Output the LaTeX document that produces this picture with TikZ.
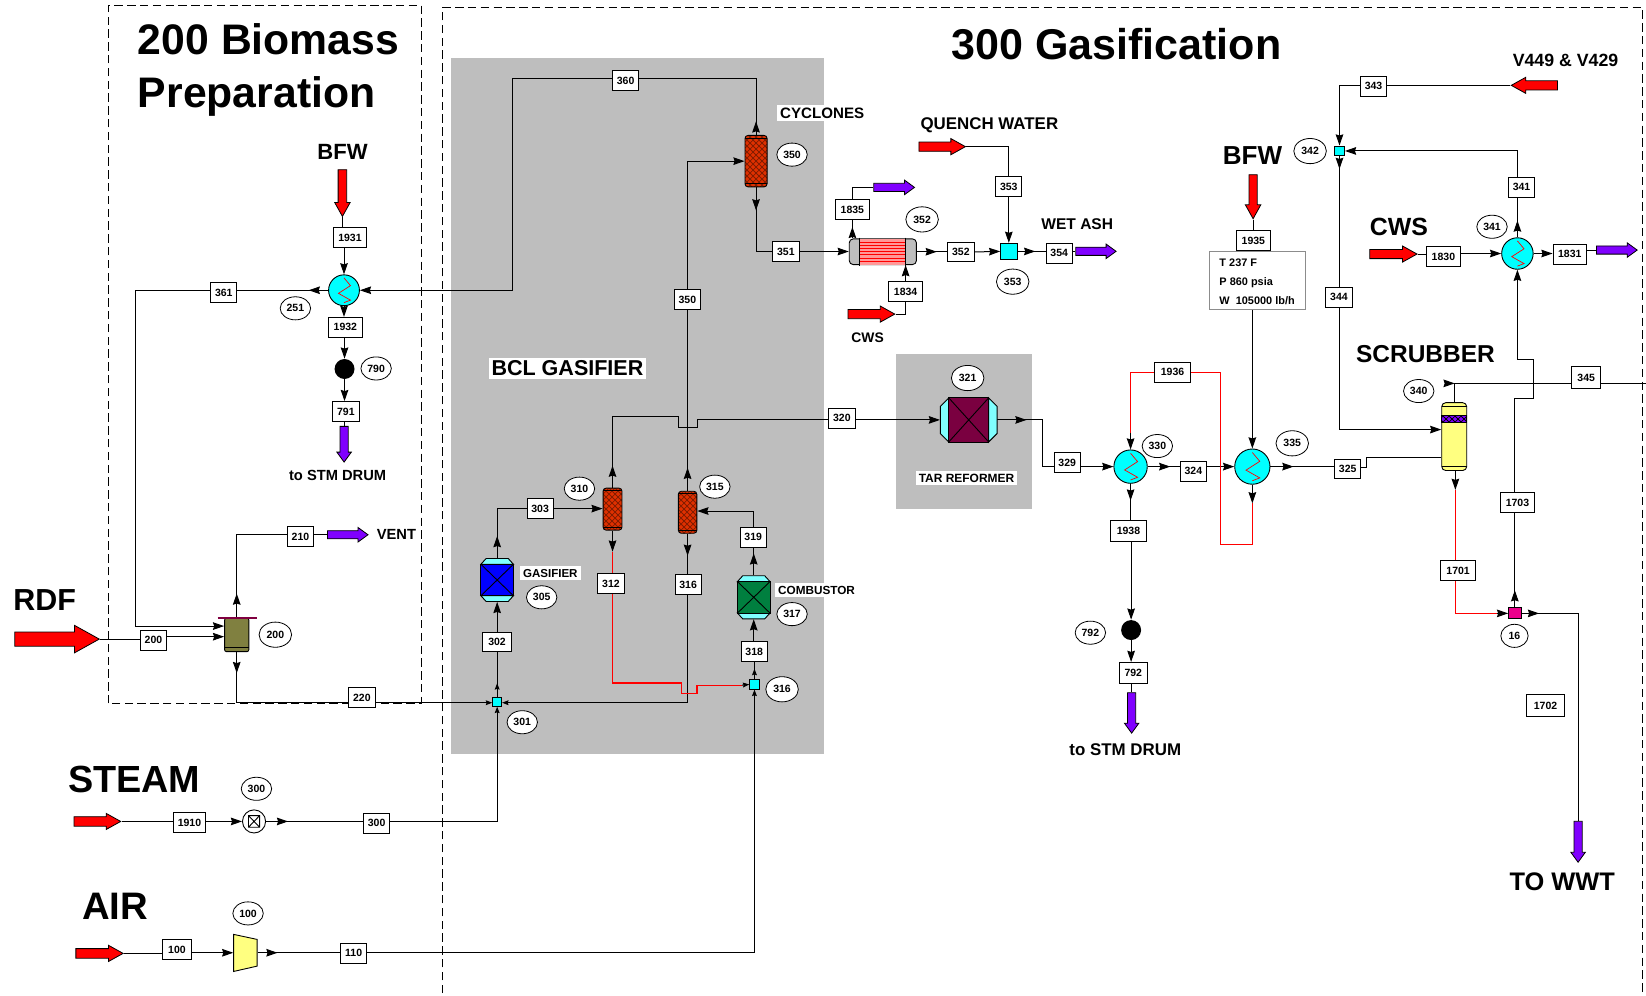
\documentclass[tikz,border=0pt]{standalone}
\usepackage{fontspec}
\setmainfont{Liberation Sans}
\usetikzlibrary{arrows.meta,shapes.geometric,shapes.arrows,decorations.markings,patterns,calc}
\pgfdeclarelayer{back}
\pgfdeclarelayer{conn}
\pgfsetlayers{back,conn,main}
\newcommand\uu{0.5249pt}
\newcommand\fsz[1]{\fontsize{\fpeval{#1*0.5249}}{\fpeval{#1*0.62}}\selectfont\bfseries}
\definecolor{grayz}{HTML}{BEBEBE}
\definecolor{purp}{HTML}{8000FF}
\definecolor{capc}{HTML}{80FFFF}
\definecolor{cyanc}{HTML}{00FFFF}
\definecolor{olivec}{HTML}{808040}
\definecolor{maroonc}{HTML}{7A0040}
\definecolor{greenc}{HTML}{007F3F}
\definecolor{yelc}{HTML}{FFFF80}
\definecolor{hotc}{HTML}{E03000}
\definecolor{hatchc}{HTML}{801C00}
\tikzset{
  hd/.tip={Stealth[length=5.6pt,width=3.8pt,inset=.6pt]},
  sh/.tip={Stealth[length=3.2pt,width=2.4pt,inset=.4pt]},
  ln/.style={draw=black,line width=.5pt},
  rln/.style={draw=red,line width=.55pt},
  outat/.style={postaction={decorate,decoration={markings,mark=at position #1*\uu with {\arrow[black]{hd}}}}},
  soutat/.style={postaction={decorate,decoration={markings,mark=at position #1*\uu with {\arrow[black]{sh}}}}},
  lb/.style={draw,fill=white,inner sep=0,minimum width=25*\uu,minimum height=19*\uu,line width=.45pt,font=\fsz{10}},
  lbw/.style={lb,minimum width=32*\uu},
  tag/.style={draw,fill=white,ellipse,inner sep=0,minimum width=29*\uu,minimum height=22*\uu,line width=.4pt,font=\fsz{10}},
  tagb/.style={tag,minimum width=31*\uu,minimum height=24*\uu},
  ttl/.style={anchor=base west,inner sep=0,font=\fsz{#1}},
  wbox/.style={anchor=base west,fill=white,inner xsep=1.5pt,inner ysep=1.5pt,font=\fsz{#1}},
  hxc/.style={draw,circle,fill=cyanc,inner sep=0,minimum size=#1*2*\uu,line width=.45pt},
  mixc/.style={draw,rectangle,fill=cyanc,inner sep=0,minimum size=#1*\uu,line width=.45pt},
  dot/.style={circle,fill=black,inner sep=0,minimum size=19*\uu},
  equip/.style n args={2}{inner sep=0,minimum width=#1*\uu,minimum height=#2*\uu},
  ves/.style n args={2}{draw,rounded corners=1.5pt,inner sep=0,minimum width=#1*\uu,minimum height=#2*\uu,line width=.45pt,preaction={fill=hotc},pattern=crosshatch,pattern color=hatchc},
  barrow/.style n args={3}{shape=single arrow,draw=black,line width=.4pt,inner sep=#3/2*\uu,anchor=tail,
     minimum height=#1*\uu,minimum width=#2*\uu,single arrow head extend=(#2-#3)/2*\uu,
     single arrow tip angle=58,single arrow head indent=0pt},
  reda/.style n args={3}{barrow={#1}{#2}{#3},fill=red},
  puraa/.style={barrow={#1}{13}{7},fill=purp,single arrow tip angle=72},
}
\newcommand\zigz[2]{\draw[red,line width=.35pt,shift={(#1)},scale=#2] (0,-.8)--(.42,-.3)--(-.36,.2)--(.42,.64)--(0,.8);}
\newcommand\reactor[2]{\begin{scope}[shift={(#1)},line width=.45pt]
  \filldraw[fill=capc] (-15.5,-15)--(-10.5,-20.5)--(10.5,-20.5)--(15.5,-15)--cycle;
  \filldraw[fill=capc] (-15.5,15)--(-10.5,20.5)--(10.5,20.5)--(15.5,15)--cycle;
  \filldraw[fill=#2] (-15.5,-15) rectangle (15.5,15);
  \draw (-15.5,-15)--(15.5,15) (-15.5,15)--(15.5,-15);
\end{scope}}
\newcommand\capl[4]{\draw[shift={(#1)},line width=.45pt] (-#2,-#3+#4)--(#2,-#3+#4) (-#2,#3-#4)--(#2,#3-#4);}
\begin{document}
\begin{tikzpicture}[x=0.5249pt,y=-0.5249pt]
\useasboundingbox (0,0) rectangle (1568,948);
% titles and free text
\node[ttl=40.7] (t200a) at (131,52) {200 Biomass};
\node[ttl=40.7] (t200b) at (131,102) {Preparation};
\node[ttl=41] (t300) at (906,57) {300 Gasification};
\node[ttl=21] (tbfw1) at (302,152) {BFW};
\node[ttl=14] (tstm1) at (275,458) {to STM DRUM};
\node[ttl=14] (tvent) at (358.6,513.8) {VENT};
\node[ttl=29] (trdf) at (12.4,581.8) {RDF};
\node[ttl=36] (tsteam) at (64.5,755.2) {STEAM};
\node[ttl=36.5] (tair) at (77.9,875.8) {AIR};
\node[wbox=20.5] (tbcl) at (465,358) {BCL GASIFIER};
\node[wbox=11] (tgas) at (495,550) {GASIFIER};
\node[wbox=11.2] (tcomb) at (738,566) {COMBUSTOR};
\node[wbox=14.4] (tcyc) at (740,112.5) {CYCLONES};
\node[wbox=11.4] (ttar) at (872,459.5) {TAR REFORMER};
\node[ttl=16.1] (tq) at (876.5,123.2) {QUENCH WATER};
\node[ttl=13.2] (tcws1) at (810.7,326.5) {CWS};
\node[ttl=14.8] (twet) at (991.7,219) {WET ASH};
\node[ttl=16.1] (tstm2) at (1018.4,719.3) {to STM DRUM};
\node[ttl=16.9] (tv) at (1440.7,63.5) {V449 \& V429};
\node[ttl=24.8] (tbfw2) at (1164.5,156.5) {BFW};
\node[ttl=23.7] (tcws2) at (1304.5,224.2) {CWS};
\node[ttl=23.3] (tscr) at (1291.5,344.9) {SCRUBBER};
\node[ttl=24.2] (twwt) at (1437.6,848) {TO WWT};
% block arrows
\node[reda={44.5}{14}{7.4},shape border rotate=270] (abfw1) at (326.2,161.3) {};
\node[puraa={34},shape border rotate=270] (pstm1) at (327.8,405.8) {};
\node[puraa={38.7}] (pvent) at (311.5,509.4) {};
\node[reda={80.5}{25.4}{12.7}] (ardf) at (13.7,608.8) {};
\node[reda={44.4}{14.6}{8.3}] (asteam) at (70.2,782.5) {};
\node[reda={45}{14.6}{8.3}] (aair) at (71.9,908.2) {};
\node[puraa={38.8}] (p1835) at (832,178.5) {};
\node[reda={44.5}{14.6}{8}] (acws1) at (807.5,299.2) {};
\node[reda={44.3}{14.6}{8}] (aq) at (875,139.7) {};
\node[puraa={38.4}] (p354) at (1024.4,239.4) {};
\node[puraa={38.5},shape border rotate=270] (pstm2) at (1078,659.5) {};
\node[reda={44}{14.6}{8},shape border rotate=180] (av) at (1484,81.3) {};
\node[reda={42}{14}{7},shape border rotate=270] (abfw2) at (1193.7,166) {};
\node[reda={45}{14.6}{8}] (acws2) at (1304.5,242) {};
\node[puraa={38.8}] (p1831) at (1520.4,238.2) {};
\node[puraa={39},shape border rotate=270] (pwwt) at (1503.3,782) {};
% heat exchangers
\node[hxc=14.7] (hx251) at (327.7,276.5) {}; \zigz{hx251}{14.7}
\node[hxc=15.9] (hx330) at (1077,444.5) {}; \zigz{hx330}{15.9}
\node[hxc=16.8] (hx335) at (1193,444.5) {}; \zigz{hx335}{16.8}
\node[hxc=15] (hx341) at (1445.5,241.5) {}; \zigz{hx341}{15}
% tube exchanger 352
\node[draw,rounded corners=2pt,fill=grayz,equip={64}{24.5},line width=.45pt] (hx352) at (841,239.8) {};
\begin{scope}[shift={(hx352)},line width=.45pt]
  \filldraw[draw=none,fill=red!40] (-22.4,-12.2) rectangle (21.8,12.2);
  \foreach \yy in {-9,-6,-3,0,3,6,9} \draw[red,line width=.5pt] (-22.4,\yy)--(21.8,\yy);
  \draw (-22.4,-13.5)--(-22.4,13.5) (21.8,-13.5)--(21.8,13.5);
\end{scope}
% mixers
\node[mixc=8.5] (mix301) at (473.6,668.5) {};
\node[mixc=9] (mix316) at (718.7,652) {};
\node[mixc=15.5] (mix353) at (961,239.5) {};
\node[mixc=9.5] (mix342) at (1276,143.8) {};
\node[mixc=10.5,fill=magenta,minimum width=11.8*\uu] (mix16) at (1443,584.3) {};
% dots
\node[dot] (c790) at (328.2,351.5) {};
\node[dot] (c792) at (1077.5,600.2) {};
% valve
\node[draw,circle,fill=white,inner sep=0,minimum size=22*\uu,line width=.45pt] (v300) at (242,782.5) {};
\draw[shift={(v300)},line width=.45pt] (-5.3,-5.5) rectangle (5.3,5.5) (-5.3,-5.5)--(5.3,5.5) (-5.3,5.5)--(5.3,-5.5);
% compressor
\node[equip={22.4}{35}] (comp) at (233.8,907.6) {};
\filldraw[fill=yelc,line width=.45pt,shift={(comp)}] (-11.2,-17.5)--(11.2,-12.7)--(11.2,12.7)--(-11.2,17.8)--cycle;
% tank 200
\node[draw,fill=olivec,rounded corners=1pt,equip={23.1}{32},line width=.45pt] (tank) at (225.5,604.8) {};
\draw[shift={(tank)},line width=.45pt] (-11.5,12)--(11.5,12);
\draw[draw={rgb,255:red,128;green,0;blue,64},line width=.8pt,shift={(tank)}] (-18.3,-16.2)--(19.1,-16.2);
% gasifier, combustor, reformer
\node[equip={31}{41}] (gas) at (473.6,552.5) {}; \reactor{gas}{blue}
\node[equip={31}{41}] (comb) at (718,569) {}; \reactor{comb}{greenc}
\node[equip={54}{42}] (refr) at (922.8,400) {};
\begin{scope}[shift={(refr)},line width=.45pt]
  \filldraw[fill=capc] (-19,-21)--(-27,-13)--(-27,13)--(-19,21)--cycle;
  \filldraw[fill=capc] (19,-21)--(27,-13)--(27,13)--(19,21)--cycle;
  \filldraw[fill=maroonc] (-19,-21) rectangle (19,21);
  \draw (-19,-21)--(19,21) (-19,21)--(19,-21);
\end{scope}
% vessels
\node[ves={18}{40}] (ves310) at (583.5,485) {}; \capl{ves310}{9}{20}{2.5}
\node[ves={17.6}{40}] (ves315) at (655,488) {}; \capl{ves315}{8.8}{20}{2.5}
\node[ves={21}{49}] (cyc) at (720.2,153.5) {}; \capl{cyc}{10.5}{24.5}{3}
% scrubber
\node[draw,fill=yelc,rounded corners=2pt,equip={23.8}{64.6},line width=.45pt] (scr) at (1385.3,415.9) {};
\capl{scr}{11.9}{32.3}{4}
\filldraw[shift={(scr)},fill=purp,line width=.3pt] (-11.9,-20.1) rectangle (11.9,-13.5);
\fill[shift={(scr)},pattern=crosshatch,pattern color=black] (-11.9,-20.1) rectangle (11.9,-13.5);
% info box
\node[draw=black!45,fill=white,equip={91.5}{55},line width=.5pt] (info) at (1198.2,267.3) {};
\node[ttl=10.4] (i1) at (1161.3,254) {T 237 F};
\node[ttl=10.4] (i2) at (1161.3,271.8) {P 860 psia};
\node[ttl=10.4] (i3) at (1161.3,289.6) {W\ \ 105000 lb/h};
% stream labels
\node[lbw] (l1931) at (333.4,226.6) {1931};
\node[lbw] (l1932) at (329,311.8) {1932};
\node[lb] (l791) at (329.5,392) {791};
\node[lb] (l361) at (213.2,278.8) {361};
\node[lb] (l360) at (596,77) {360};
\node[lb] (l200) at (146.2,610) {200};
\node[lb] (l210) at (286.2,511) {210};
\node[lb] (l220) at (344.7,664.7) {220};
\node[lbw,minimum width=30.8*\uu] (l1910) at (180.5,783.7) {1910};
\node[lb] (l300) at (358.8,784) {300};
\node[lb,minimum width=27*\uu] (l100) at (168.6,904.8) {100};
\node[lb] (l110) at (336.9,908) {110};
\node[lb,minimum width=27*\uu] (l302) at (473.5,611.5) {302};
\node[lb] (l303) at (514.5,484.5) {303};
\node[lb] (l312) at (582,556) {312};
\node[lb] (l316) at (655.5,557) {316};
\node[lb] (l318) at (718.5,621) {318};
\node[lb] (l319) at (717.5,511.7) {319};
\node[lb,minimum width=26*\uu] (l320) at (802,398.5) {320};
\node[lb] (l350) at (654.8,285.5) {350};
\node[lb] (l351) at (748.6,239.6) {351};
\node[lbw] (l1835) at (812,199.5) {1835};
\node[lbw] (l1834) at (862.7,277.7) {1834};
\node[lb] (l352) at (915.3,240) {352};
\node[lb] (l353) at (961,177.7) {353};
\node[lb] (l354) at (1009,241) {354};
\node[lb] (l329) at (1016.6,440.5) {329};
\node[lb] (l324) at (1136.8,449) {324};
\node[lbw,minimum width=34*\uu] (l1936) at (1117,354.6) {1936};
\node[lbw,minimum width=35*\uu,minimum height=20*\uu] (l1938) at (1075,505.5) {1938};
\node[lb,minimum width=27*\uu,minimum height=20*\uu] (l792) at (1079.6,641) {792};
\node[lb] (l325) at (1283.8,446.7) {325};
\node[lb] (l343) at (1308.4,82.2) {343};
\node[lb] (l344) at (1275.5,283) {344};
\node[lbw] (l1935) at (1194,229) {1935};
\node[lbw] (l1830) at (1375,244.5) {1830};
\node[lbw] (l1831) at (1495.4,242.3) {1831};
\node[lb] (l341) at (1449.4,178.5) {341};
\node[lb,minimum width=28*\uu,minimum height=21*\uu] (l345) at (1511,360) {345};
\node[lbw,minimum width=33*\uu] (l1701) at (1389,543.4) {1701};
\node[lbw] (l1703) at (1445.5,478.6) {1703};
\node[lbw,minimum width=36*\uu,minimum height=21*\uu] (l1702) at (1472.3,672) {1702};
% equipment tags
\node[tag] (e251) at (281.4,293.7) {251};
\node[tag] (e790) at (358.3,351) {790};
\node[tagb] (e200) at (262.3,604.6) {200};
\node[tag] (e301) at (497.5,688) {301};
\node[tag] (e300) at (244.3,751.4) {300};
\node[tag] (e100) at (236.3,870.1) {100};
\node[tag] (e305) at (516,569) {305};
\node[tag] (e310) at (552,465.5) {310};
\node[tag] (e315) at (681,463.6) {315};
\node[tagb] (e316) at (745,656.6) {316};
\node[tag] (e317) at (754.5,585) {317};
\node[tag] (e350) at (754.5,147.3) {350};
\node[tagb] (e352) at (878.4,209) {352};
\node[tagb] (e353) at (964.7,268.3) {353};
\node[tagb] (e321) at (921.8,360.1) {321};
\node[tag] (e330) at (1102.5,424.9) {330};
\node[tagb] (e335) at (1231,422.3) {335};
\node[tag] (e792) at (1038.7,602.7) {792};
\node[tagb] (e342) at (1248,143.9) {342};
\node[tag] (e341) at (1421.3,216) {341};
\node[tag] (e340) at (1351.5,372.5) {340};
\node[tag,minimum width=26*\uu] (e16) at (1442.7,605.7) {16};
% free coordinates
\coordinate (r312a) at (583.5,525.5);
\coordinate (r312b) at (707,652.6);
\coordinate (r1936a) at (1077,412.2);
\coordinate (r1936b) at (1193,479.5);
\coordinate (r1701a) at (1386.4,466.7);
\coordinate (r1701b) at (1425.8,584.3);
\coordinate (e345) at (1568,365.2);
% connectors
\begin{pgfonlayer}{conn}
\draw[ln] (abfw1.tip) -- (abfw1.tip |- l1931.north);
\draw[ln,-{hd}] (hx251.north |- l1931.south) -- (hx251.north);
\draw[ln,-{hd}] (hx251.south) -- (hx251.south |- l1932.north);
\draw[ln,-{hd}] (c790.north |- l1932.south) -- (c790.north);
\draw[ln,-{hd}] (c790.south) -- (c790.south |- l791.north);
\draw[ln] (pstm1.tail |- l791.south) -- (pstm1.tail);
\draw[ln,-{hd},outat=18.5] (hx251.west) -- (128.7,276.5) -- (128.7,596.4) -- (tank.west |- 0,596.4);
\draw[ln,-{hd},outat=13] (cyc.north) -- (cyc.north |- 0,74.6) -- (488.6,74.6) -- (488.6,276.5) -- (hx251.east);
\draw[ln] (ardf.tip) -- (l200.west |- ardf.tip);
\draw[ln,-{hd}] (l200.east |- 0,606.5) -- (tank.west |- 0,606.5);
\draw[ln,outat=23] (tank.north) -- (tank.north |- 0,509.4) -- (l210.west |- 0,509.4);
\draw[ln] (l210.east |- 0,509.4) -- (pvent.tail);
\draw[ln,-{sh},outat=20] (tank.south) -- (tank.south |- 0,669.4) -- (mix301.west |- 0,669.4);
\draw[ln] (asteam.tip) -- (l1910.west |- asteam.tip);
\draw[ln,-{hd}] (l1910.east |- v300.west) -- (v300.west);
\draw[ln,outat=21] (v300.east) -- (l300.west |- v300.east);
\draw[ln,-{sh}] (l300.east |- v300.east) -- (mix301.south |- v300.east) -- (mix301.south);
\draw[ln] (aair.tip) -- (l100.west |- aair.tip);
\draw[ln,-{hd}] (l100.east |- comp.west) -- (comp.west);
\draw[ln,outat=19] (comp.east) -- (l110.west |- comp.east);
\draw[ln,-{sh}] (l110.east |- comp.east) -- (mix316.south |- comp.east) -- (mix316.south);
\draw[ln,soutat=13] (mix301.north) -- (mix301.north |- l302.south);
\draw[ln,-{hd}] (gas.south |- l302.north) -- (gas.south);
\draw[ln,outat=21] (gas.north) -- (gas.north |- l303.west) -- (l303.west);
\draw[ln,-{hd}] (l303.east) -- (ves310.west |- l303.east);
\draw[ln,outat=21] (ves310.north) -- (ves310.north |- 0,397) -- (646,397) -- (646,407) -- (664,407) -- (664,400) -- (l320.west |- 0,400);
\draw[ln,-{hd}] (l320.east |- 0,400) -- (refr.west);
\draw[ln,-{hd},outat=22] (ves315.north) -- (ves315.north |- cyc.west) -- (cyc.west);
\draw[ln,-{sh},outat=21] (ves315.south) -- (ves315.south |- 0,669.4) -- (mix301.east |- 0,669.4);
\draw[ln,-{hd}] (ves310.south) -- (r312a);
\draw[rln] (r312a) -- (583.5,650.6) -- (649.4,650.6) -- (649.4,660.5) -- (664,660.5) -- (664,652.6) -- (r312b);
\draw[ln,-{sh}] (r312b) -- (mix316.west);
\draw[ln,soutat=10] (mix316.north) -- (mix316.north |- l318.south);
\draw[ln,-{hd}] (comb.south |- l318.north) -- (comb.south);
\draw[ln,outat=21] (comb.north) -- (comb.north |- l319.south);
\draw[ln,-{hd}] (l319.north -| comb.north) -- (comb.north |- 0,486.8) -- (ves315.east |- 0,486.8);
\draw[ln,outat=22] (cyc.south) -- (cyc.south |- l351.west) -- (l351.west);
\draw[ln,-{hd}] (l351.east) -- (hx352.west |- l351.east);
\draw[ln,outat=11] (l1835.south |- hx352.north) -- (l1835.south);
\draw[ln] (l1835.north) -- (l1835.north |- p1835.tail) -- (p1835.tail);
\draw[ln] (acws1.tip) -- (l1834.south |- acws1.tip) -- (l1834.south);
\draw[ln,-{hd}] (l1834.north) -- (l1834.north |- hx352.south);
\draw[ln,outat=19] (hx352.east) -- (l352.west |- hx352.east);
\draw[ln,-{hd}] (l352.east) -- (mix353.west);
\draw[ln,outat=17] (mix353.east) -- (l354.west |- mix353.east);
\draw[ln] (l354.east |- p354.tail) -- (p354.tail);
\draw[ln] (aq.tip) -- (l353.north |- aq.tip) -- (l353.north);
\draw[ln,-{hd}] (l353.south) -- (mix353.north);
\draw[ln,outat=27.7] (refr.east) -- (993.3,400) -- (993.3,444.5) -- (l329.west |- 0,444.5);
\draw[ln,-{hd}] (l329.east |- hx330.west) -- (hx330.west);
\draw[ln,outat=21.5] (hx330.east) -- (l324.west |- hx330.east);
\draw[ln,-{hd}] (l324.east |- hx335.west) -- (hx335.west);
\draw[ln,outat=16] (hx330.south) -- (hx330.south |- l1938.north);
\draw[ln,-{hd}] (c792.north |- l1938.south) -- (c792.north);
\draw[ln,-{hd}] (c792.south) -- (c792.south |- l792.north);
\draw[ln] (pstm2.tail |- l792.south) -- (pstm2.tail);
\draw[ln,outat=22] (hx335.east) -- (l325.west |- hx335.east);
\draw[ln] (l325.east |- 0,445.4) -- (1302,445.4) -- (1302,436) -- (scr.west |- 0,436);
\draw[rln] (r1936a) -- (1077,354.7) -- (1162.9,354.7) -- (1162.9,518.6) -- (1193,518.6) -- (r1936b);
\draw[ln,-{hd}] (r1936a) -- (hx330.north);
\draw[ln,-{hd}] (hx335.south) -- (r1936b);
\draw[ln] (abfw2.tip) -- (abfw2.tip |- l1935.north);
\draw[ln,-{hd}] (hx335.north |- info.south) -- (hx335.north);
\draw[ln,-{hd}] (av.tip) -- (mix342.north |- av.tip) -- (mix342.north);
\draw[ln,-{hd},outat=12] (mix342.south) -- (mix342.south |- 0,409.2) -- (scr.west |- 0,409.2);
\draw[ln,outat=16] (hx341.north) -- (hx341.north |- l341.south);
\draw[ln,-{hd}] (hx341.north |- l341.north) -- (hx341.north |- mix342.east) -- (mix342.east);
\draw[ln] (acws2.tip) -- (l1830.west |- acws2.tip);
\draw[ln,-{hd}] (l1830.east |- hx341.west) -- (hx341.west);
\draw[ln,-{hd}] (hx341.east) -- (l1831.west |- hx341.east);
\draw[ln] (l1831.east |- p1831.tail) -- (p1831.tail);
\draw[ln,outat=16.4] (mix16.north) -- (mix16.north |- l1703.south);
\draw[ln,-{hd}] (mix16.north |- l1703.north) -- (mix16.north |- 0,379.8) -- (1460.8,379.8) -- (1460.8,342.6) -- (hx341.south |- 0,342.6) -- (hx341.south);
\draw[ln,outat=18.4] (scr.north) -- (scr.north |- e345) -- (l345.west |- e345);
\draw[ln] (l345.east |- e345) -- (e345);
\draw[ln,-{hd}] (scr.south -| r1701a) -- (r1701a);
\draw[rln] (r1701a) -- (r1701a |- r1701b) -- (r1701b);
\draw[ln,-{hd}] (r1701b) -- (mix16.west);
\draw[ln,outat=16.8] (mix16.east) -- (pwwt.tail |- mix16.east) -- (pwwt.tail);
\end{pgfonlayer}
% process area backgrounds and dashed boundaries
\begin{pgfonlayer}{back}
\fill[grayz] (429.5,55.5) rectangle (785,718);
\fill[grayz] (854,337) rectangle (983,485);
\draw[line width=.4pt,dash pattern=on 4.2pt off 2.2pt] (103.6,670) -- (103.6,4.8) -- (401,4.8) -- (401,670) -- cycle;
\draw[line width=.4pt,dash pattern=on 4.2pt off 2.2pt] (421,946) -- (421,7.5) -- (1565,7.5) -- (1565,946);
\end{pgfonlayer}
\end{tikzpicture}
\end{document}
